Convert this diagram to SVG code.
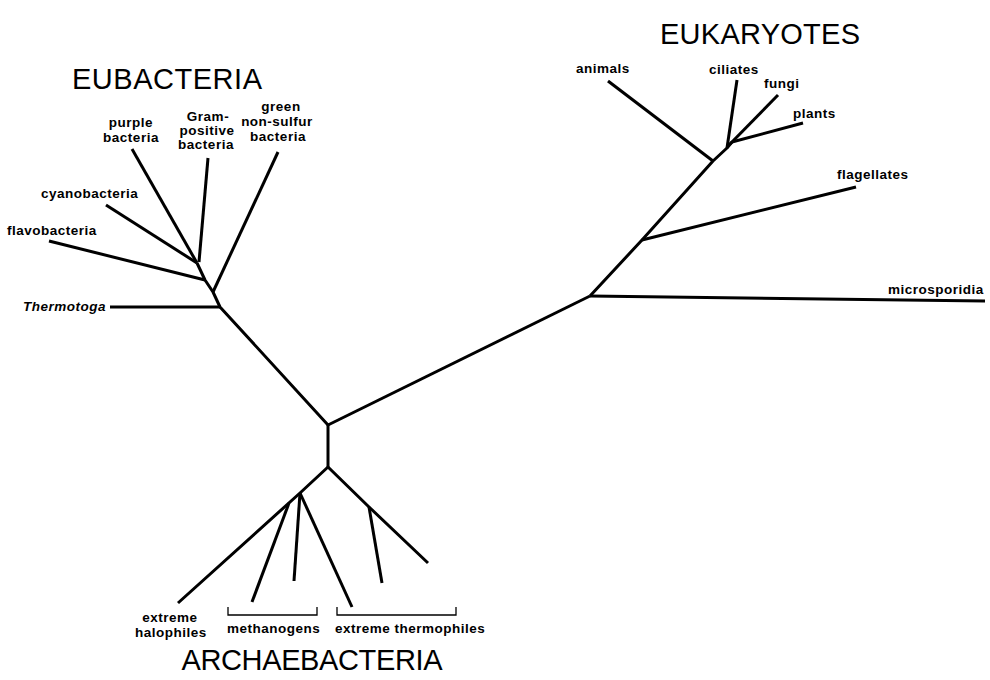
<svg xmlns="http://www.w3.org/2000/svg" width="990" height="680" viewBox="0 0 990 680">
<style>
.br{fill:none;stroke:#000;stroke-width:3;stroke-linejoin:round;stroke-linecap:butt}
.bk{fill:none;stroke:#000;stroke-width:1.3}
.t{font-family:"Liberation Sans",Arial,sans-serif;font-size:13.5px;font-weight:bold;letter-spacing:0.5px;fill:#000}
.c{text-anchor:middle}
.it{font-style:italic}
.h{font-family:"Liberation Sans",Arial,sans-serif;font-size:29px;font-weight:normal;fill:#000;text-anchor:middle}
</style>
<rect width="990" height="680" fill="#fff"/>
<g id="connectors">
  <path class="br" d="M328,425 L590,296"/>
  <path class="br" d="M328,425 L328,467"/>
  <path class="br" d="M197,263 L205,280 L213,292 L220,307 L328,425"/>
  <path class="br" d="M132,149 L197,263"/>
  <path class="br" d="M208,158 L199,262"/>
  <path class="br" d="M106,205 L197,263"/>
  <path class="br" d="M49,241 L205,280"/>
  <path class="br" d="M278,152 L213,292"/>
  <path class="br" d="M110,307 L221,307"/>
  <path class="br" d="M590,296 L985,301"/>
  <path class="br" d="M590,296 L642,240 L713,161 L727,148 L732,142"/>
  <path class="br" d="M642,240 L856,187"/>
  <path class="br" d="M608,81 L713,161"/>
  <path class="br" d="M737,80 L727,148"/>
  <path class="br" d="M778,95 L730,144"/>
  <path class="br" d="M803,123 L732,142"/>
  <path class="br" d="M328,467 L300,493 L178,603"/>
  <path class="br" d="M328,467 L369,507 L428,563"/>
  <path class="br" d="M369,507 L382,583"/>
  <path class="br" d="M300,493 L294,581"/>
  <path class="br" d="M300,493 L352,607"/>
  <path class="br" d="M289,503 L252,602"/>
  <path class="bk" d="M228,607 V615 H317 V607"/>
  <path class="bk" d="M337,607 V615 H456 V607"/>
</g>
<g id="eubacteria">
  <text class="h" x="167" y="89" textLength="190">EUBACTERIA</text>
  <g id="purple"><text class="t c" x="131" y="127">purple</text><text class="t c" x="131" y="142">bacteria</text></g>
  <g id="gram"><text class="t c" x="208" y="121">Gram-</text><text class="t c" x="207" y="135">positive</text><text class="t c" x="206" y="149">bacteria</text></g>
  <g id="green"><text class="t c" x="281" y="111">green</text><text class="t c" x="277" y="126">non-sulfur</text><text class="t c" x="278" y="141">bacteria</text></g>
  <g id="cyano"><text class="t" x="41" y="198">cyanobacteria</text></g>
  <g id="flavo"><text class="t" x="7" y="235">flavobacteria</text></g>
  <g id="thermotoga"><text class="t it" x="23" y="311">Thermotoga</text></g>
</g>
<g id="eukaryotes">
  <text class="h" x="760" y="44" textLength="200">EUKARYOTES</text>
  <g id="animals"><text class="t" x="576" y="73">animals</text></g>
  <g id="ciliates"><text class="t" x="709" y="74">ciliates</text></g>
  <g id="fungi"><text class="t" x="764" y="88">fungi</text></g>
  <g id="plants"><text class="t" x="793" y="118">plants</text></g>
  <g id="flagellates"><text class="t" x="837" y="179">flagellates</text></g>
  <g id="microsporidia"><text class="t" x="888" y="294">microsporidia</text></g>
</g>
<g id="archaebacteria">
  <text class="h" x="312" y="670" textLength="261">ARCHAEBACTERIA</text>
  <g id="halophiles"><text class="t c" x="170" y="622">extreme</text><text class="t c" x="171" y="637">halophiles</text></g>
  <g id="methanogens"><text class="t" x="227" y="633">methanogens</text></g>
  <g id="thermophiles"><text class="t" x="335" y="633">extreme thermophiles</text></g>
</g>
</svg>
